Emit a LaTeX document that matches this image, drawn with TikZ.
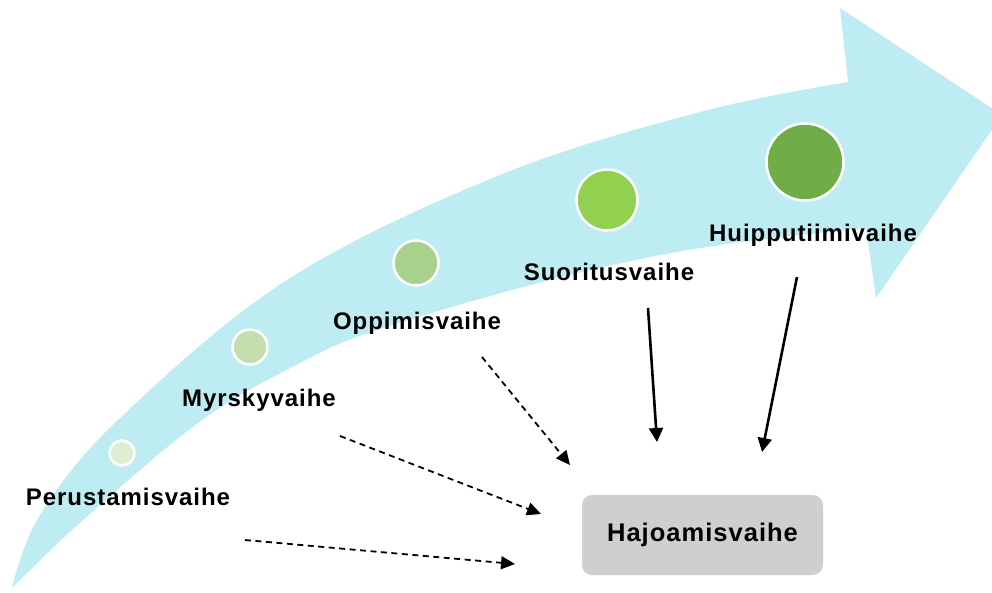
\documentclass[tikz,border=0pt]{standalone}
\usepackage{fontspec}
\setmainfont{Liberation Sans}[LetterSpace=4]
\usetikzlibrary{arrows.meta}
\definecolor{band}{RGB}{189,236,242}
\definecolor{c1}{RGB}{224,236,212}
\definecolor{c2}{RGB}{197,222,176}
\definecolor{c3}{RGB}{169,209,142}
\definecolor{c4}{RGB}{146,208,80}
\definecolor{c5}{RGB}{112,173,71}
\definecolor{boxgray}{RGB}{208,206,206}
\tikzset{
  stage/.style={circle, draw=white, line width=2.5pt, minimum size=#1, inner sep=0pt},
  lbl/.style={font=\fontsize{24}{28}\selectfont\bfseries, text=black, inner sep=0pt},
  solidarrow/.style={line width=2.6pt, -{Triangle[length=14pt,width=14pt]}},
  dasharrow/.style={line width=1.8pt, dash pattern=on 6pt off 4.5pt, -{Triangle[length=14pt,width=13pt]}},
}
\begin{document}
\begin{tikzpicture}[x=1pt,y=-1pt]
\useasboundingbox (0,0) rectangle (992,592);
\fill[white] (0,0) rectangle (992,592);
% curved arrow
\fill[band] plot[smooth, tension=0.6] coordinates {(12,588) (40,515) (118,420) (287,280) (500,175) (700,112) (848,82)}
  -- (840,8) -- (1002,115) -- (876,298) -- (866,228)
  -- plot[smooth, tension=0.6] coordinates {(866,228) (700,248) (550,280) (377,330) (300,363) (202,420) (83,520) (12,588)} -- cycle;
% circles
\node[stage=25pt, fill=c1] (s1) at (122,453) {};
\node[stage=35pt, fill=c2] (s2) at (250,347) {};
\node[stage=45pt, fill=c3] (s3) at (416,263) {};
\node[stage=61pt, fill=c4] (s4) at (607,200) {};
\node[stage=77pt, fill=c5] (s5) at (805,162) {};
% labels
\node[lbl] (l1) at (128,497) {Perustamisvaihe};
\node[lbl] (l2) at (259,400) {Myrskyvaihe};
\node[lbl] (l3) at (417,323) {Oppimisvaihe};
\node[lbl] (l4) at (609,272) {Suoritusvaihe};
\node[lbl] (l5) at (813,235) {Huipputiimivaihe};
% box
\node[lbl, font=\fontsize{25.5}{30}\selectfont\bfseries, fill=boxgray, rounded corners=10pt, minimum width=241pt, minimum height=80pt] (h) at (702.5,535) {Hajoamisvaihe};
% connector ends
\coordinate (a1s) at (245,540); \coordinate (a1e) at (515,564);
\coordinate (a2s) at (340,436); \coordinate (a2e) at (541,514);
\coordinate (a3s) at (482,357); \coordinate (a3e) at (570,465);
\coordinate (a4s) at (648,308); \coordinate (a4e) at (657,442);
\coordinate (a5s) at (797,277); \coordinate (a5e) at (762,452);
\draw[dasharrow] (a1s) -- (a1e);
\draw[dasharrow] (a2s) -- (a2e);
\draw[dasharrow] (a3s) -- (a3e);
\draw[solidarrow] (a4s) -- (a4e);
\draw[solidarrow] (a5s) -- (a5e);
\end{tikzpicture}
\end{document}
